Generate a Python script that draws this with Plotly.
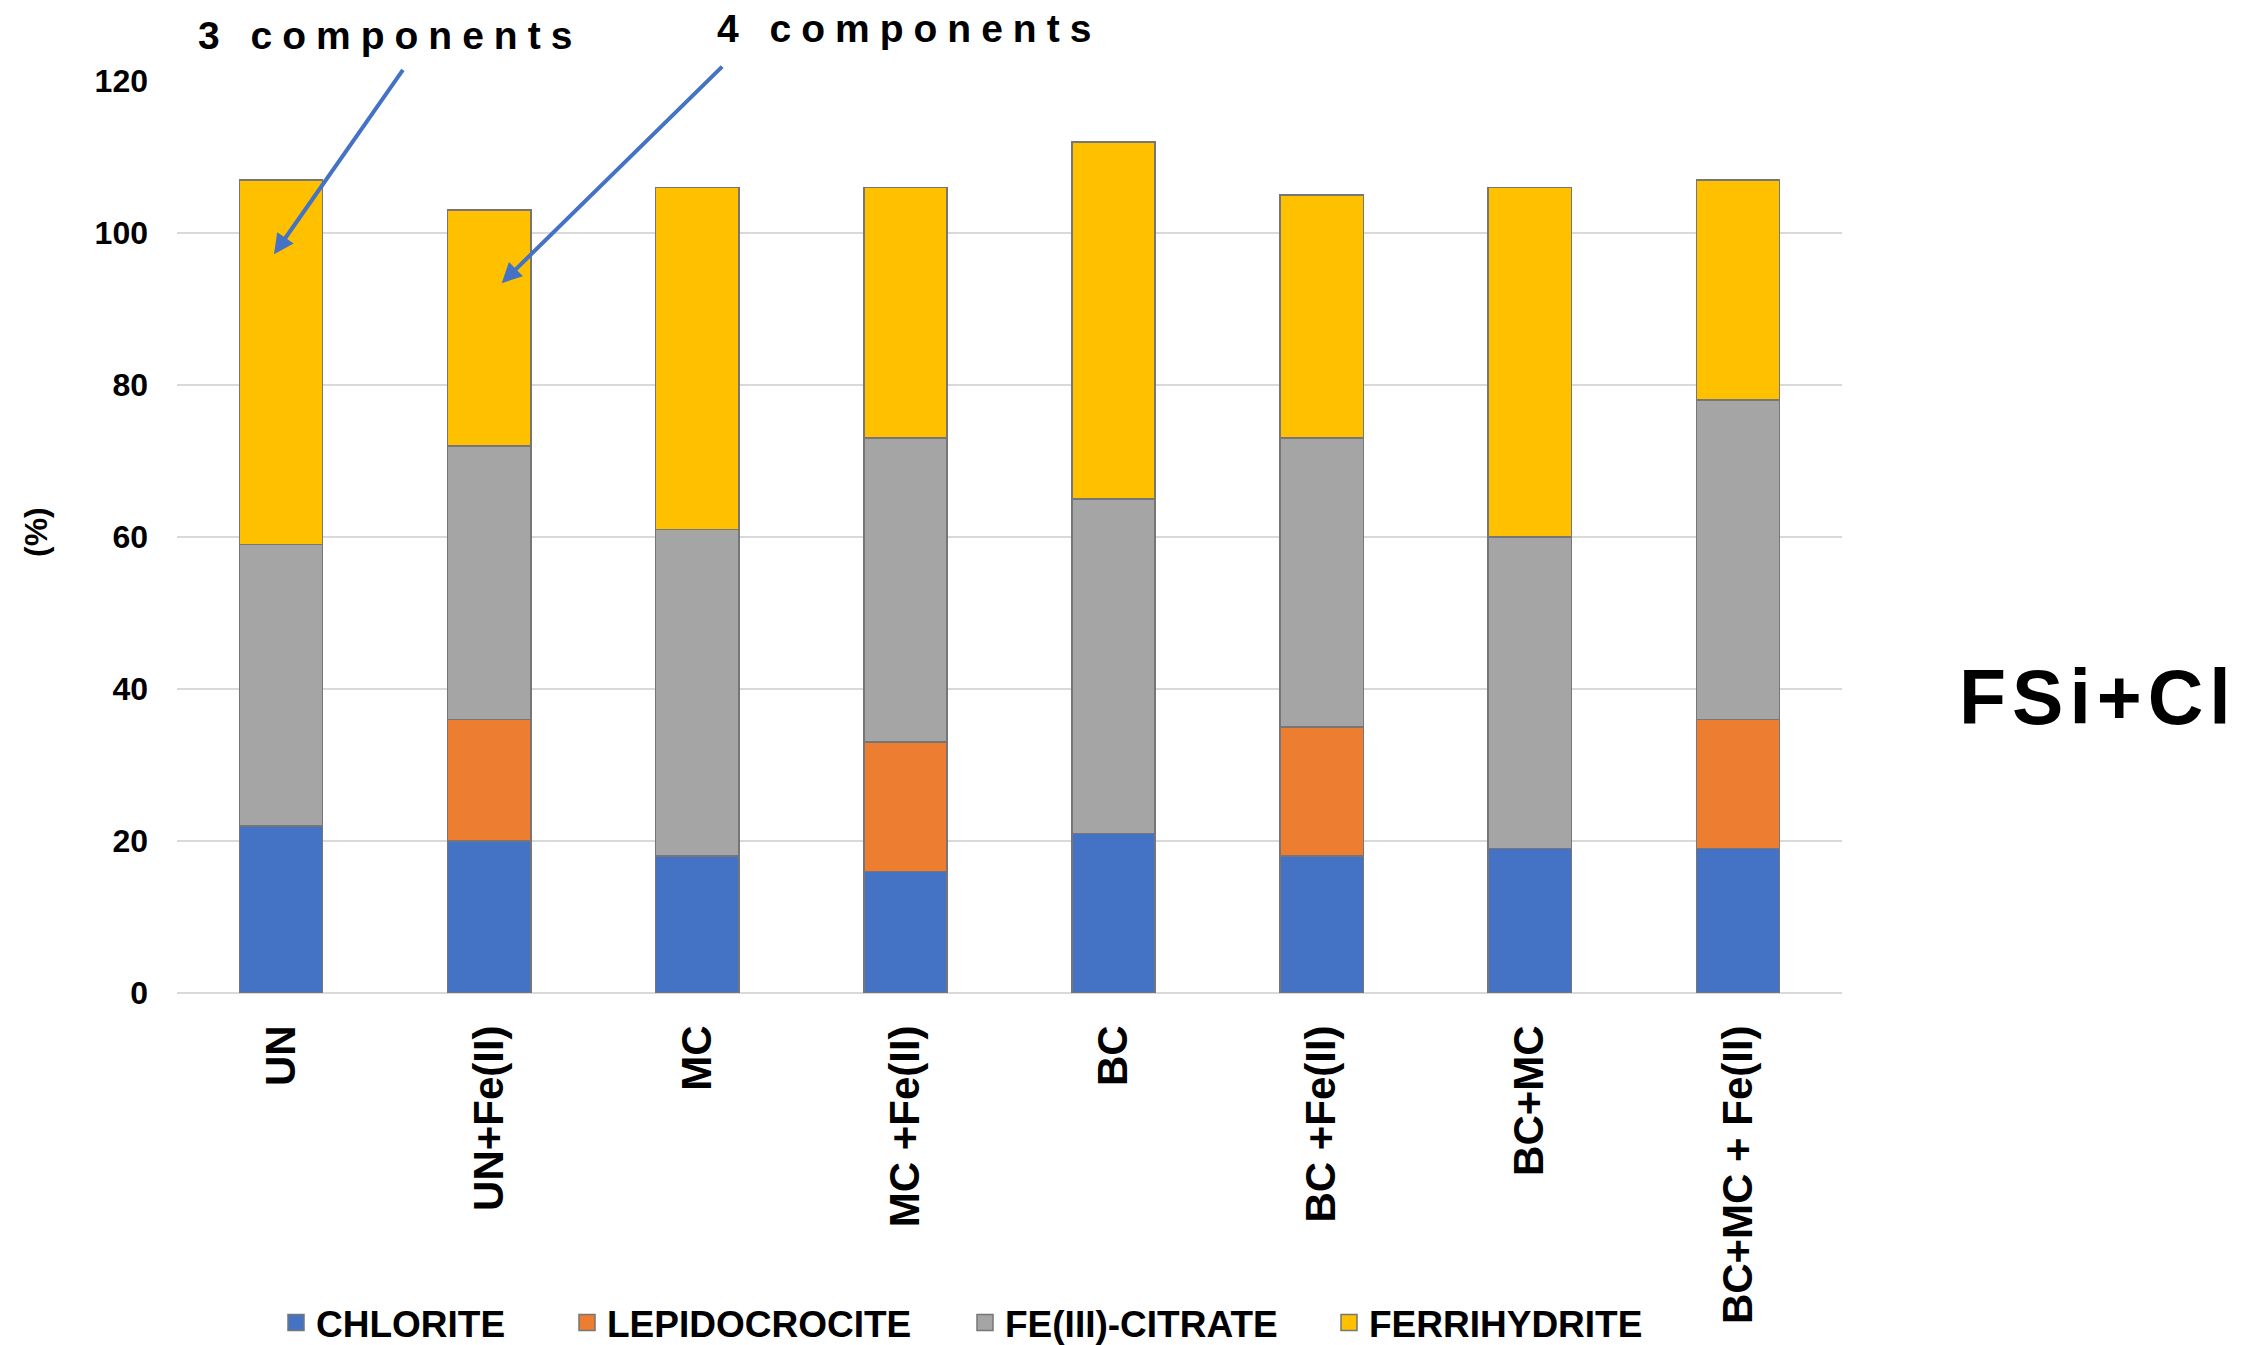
import plotly.graph_objects as go

# Samples on the x axis
categories = ["UN", "UN+Fe(II)", "MC", "MC +Fe(II)", "BC", "BC +Fe(II)", "BC+MC", "BC+MC + Fe(II)"]

# Share of each component (%), stacked from the bottom up
chlorite = [22, 20, 18, 16, 21, 18, 19, 19]
lepidocrocite = [None, 16, None, 17, None, 17, None, 17]
fe_citrate = [37, 36, 43, 40, 44, 38, 41, 42]
ferrihydrite = [48, 31, 45, 33, 47, 32, 46, 29]

series_names = ["CHLORITE", "LEPIDOCROCITE", "FE(III)-CITRATE", "FERRIHYDRITE"]
series_values = [chlorite, lepidocrocite, fe_citrate, ferrihydrite]
series_colors = ["#4472C4", "#ED7D31", "#A5A5A5", "#FFC000"]

y_ticks = [0, 20, 40, 60, 80, 100, 120]

FONT = "Liberation Sans, Arial, Helvetica, sans-serif"
OUTLINE = "#767676"

W, H = 2260, 1345
L, R, T, B = 177, 418, 81, 352
PW, PH = W - L - R, H - T - B


def px_x(x):
    return (x - L) / PW


def px_y(y):
    return (H - B - y) / PH


fig = go.Figure()
legend_ids = ["legend", "legend2", "legend3", "legend4"]
for name, vals, col in zip(series_names, series_values, series_colors):
    fig.add_trace(go.Bar(
        x=categories, y=vals, name=name, showlegend=False,
        marker=dict(color=col, line=dict(color=OUTLINE, width=1.5)),
    ))

# legend keys: larger square swatches, one legend per entry
for name, col, lg in zip(series_names, series_colors, legend_ids):
    fig.add_trace(go.Scatter(
        x=[None], y=[None], mode="markers", name=name, legend=lg, showlegend=True,
        marker=dict(symbol="square", size=16, color=col, line=dict(color=OUTLINE, width=1.5)),
        hoverinfo="skip",
    ))

legend_left_px = [276, 567, 965, 1329]
legend_common = dict(
    orientation="h", xanchor="left", yanchor="middle", y=px_y(1323),
    font=dict(family=FONT, size=37, color="#000000", weight="bold"),
    bgcolor="rgba(0,0,0,0)", borderwidth=0, itemsizing="trace",
)
legend_layout = {}
for lg, lx in zip(legend_ids, legend_left_px):
    legend_layout[lg] = dict(legend_common, x=px_x(lx))

annotations = [
    dict(x=px_x(196), y=px_y(36), xref="paper", yref="paper", xanchor="left", yanchor="middle",
         text='<span style="letter-spacing:10px">3 components</span>', showarrow=False,
         font=dict(family=FONT, size=39, color="#000000", weight="bold")),
    dict(x=px_x(715), y=px_y(29), xref="paper", yref="paper", xanchor="left", yanchor="middle",
         text='<span style="letter-spacing:10px">4 components</span>', showarrow=False,
         font=dict(family=FONT, size=39, color="#000000", weight="bold")),
    dict(x=px_x(1957), y=px_y(697), xref="paper", yref="paper", xanchor="left", yanchor="middle",
         text='<span style="letter-spacing:6px">FSi+Cl</span>', showarrow=False,
         font=dict(family=FONT, size=77, color="#000000", weight="bold")),
    dict(x=px_x(36), y=px_y(532), xref="paper", yref="paper", xanchor="center", yanchor="middle",
         text="(%)", textangle=-90, showarrow=False,
         font=dict(family=FONT, size=32, color="#000000", weight="bold")),
    # pointers to the three- and four-component fits
    dict(x=-0.034, y=97.2, xref="x", yref="y", text="", showarrow=True,
         ax=130, ay=-186, arrowhead=2, arrowsize=1, arrowwidth=4, arrowcolor="#4472C4", standoff=0),
    dict(x=1.06, y=93.4, xref="x", yref="y", text="", showarrow=True,
         ax=222, ay=-218, arrowhead=2, arrowsize=1, arrowwidth=4, arrowcolor="#4472C4", standoff=0),
]

fig.update_layout(
    width=W, height=H,
    margin=dict(l=L, r=R, t=T, b=B, autoexpand=False),
    barmode="stack", bargap=0.6,
    paper_bgcolor="#FFFFFF", plot_bgcolor="#FFFFFF",
    showlegend=True,
    annotations=annotations,
    **legend_layout,
)

fig.update_xaxes(
    type="category", tickangle=-90, showgrid=False, showline=False, zeroline=False,
    ticks="", ticklabelstandoff=23,
    tickfont=dict(family=FONT, size=42, color="#000000", weight="bold"),
)
fig.update_yaxes(
    range=[0, 120], tickvals=y_ticks, showgrid=True, gridcolor="#D9D9D9", gridwidth=1.5,
    zeroline=True, zerolinecolor="#D9D9D9", zerolinewidth=1.5, showline=False,
    ticks="", ticklabelstandoff=28,
    tickfont=dict(family=FONT, size=32, color="#000000", weight="bold"),
)

fig.write_html("out.html")
